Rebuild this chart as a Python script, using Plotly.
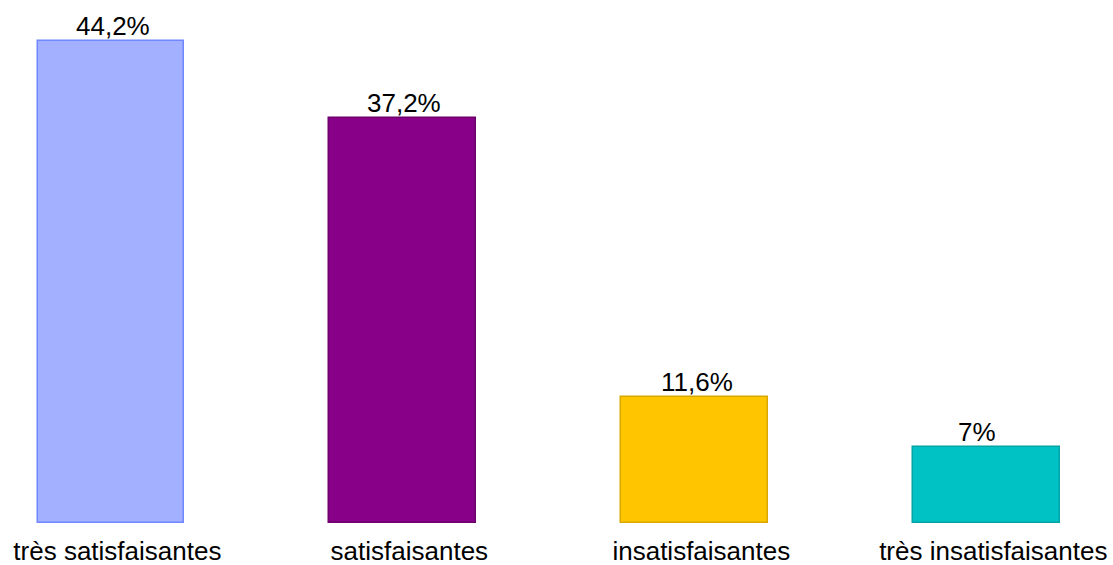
import plotly.graph_objects as go

categories = ["très satisfaisantes", "satisfaisantes", "insatisfaisantes", "très insatisfaisantes"]
values = [44.2, 37.2, 11.6, 7.0]
labels = ["44,2%", "37,2%", "11,6%", "7%"]
label_shift = [2, 1.5, 2, -10]
fill_colors = ["#A3AFFF", "#870087", "#FFC600", "#00C1C4"]
line_colors = ["#7088FF", "#6E006E", "#D9A800", "#00A3A6"]

FONT = "Liberation Sans, Arial, sans-serif"
positions = list(range(len(categories)))

fig = go.Figure(go.Bar(
    x=positions,
    y=values,
    width=0.503,
    marker=dict(color=fill_colors, line=dict(color=line_colors, width=1.5)),
    hoverinfo="skip",
))

for xi, v, t, s in zip(positions, values, labels, label_shift):
    fig.add_annotation(
        x=xi, y=v, text=t, showarrow=False,
        xanchor="center", yanchor="bottom",
        xshift=s, yshift=-2,
        font=dict(family=FONT, size=26, color="#000000"),
    )

fig.update_layout(
    width=1113, height=565,
    margin=dict(l=0, r=0, t=0, b=42),
    plot_bgcolor="white", paper_bgcolor="white",
    showlegend=False,
    bargap=0,
    xaxis=dict(
        range=[-0.380, 3.432],
        tickmode="array",
        tickvals=[p + 0.022 for p in positions],
        ticktext=categories,
        showgrid=False, zeroline=False, showline=False,
        ticks="outside", ticklen=5, tickcolor="rgba(0,0,0,0)",
        tickfont=dict(family=FONT, size=26, color="#000000"),
        automargin=False,
    ),
    yaxis=dict(
        range=[0, 47.98],
        visible=False,
        showgrid=False, zeroline=False,
        automargin=False,
    ),
)

fig.write_html("out.html")
